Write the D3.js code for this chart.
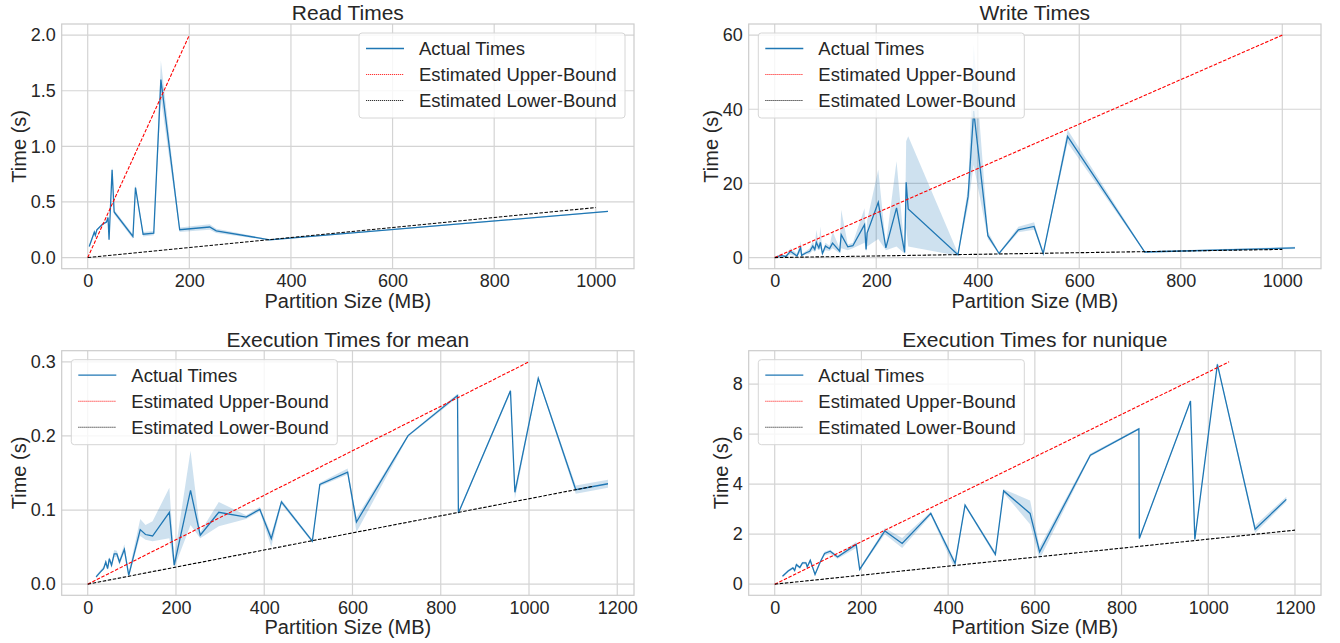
<!DOCTYPE html>
<html>
<head>
<meta charset="utf-8">
<script src="https://cdn.jsdelivr.net/npm/d3@7"></script>
<style>
  body { margin: 0; background: #fff; }
  svg { font-family: "Liberation Sans", Arial, sans-serif; }
</style>
</head>
<body>
<script>
// ---- Read Times ----
const readSize = [3, 13, 15, 18, 29, 37, 40, 42, 48, 52, 89, 94, 109, 130, 144, 181, 240, 253, 358, 1024];
const readTime = [0.10, 0.23, 0.20, 0.25, 0.30, 0.32, 0.36, 0.16, 0.79, 0.41, 0.19, 0.63, 0.21, 0.22, 1.60, 0.25, 0.275, 0.24, 0.16, 0.415];
const readLow  = [0.09, 0.21, 0.19, 0.24, 0.29, 0.31, 0.34, 0.15, 0.76, 0.39, 0.17, 0.60, 0.19, 0.20, 1.43, 0.23, 0.25, 0.22, 0.155, 0.41];
const readHigh = [0.11, 0.24, 0.21, 0.26, 0.31, 0.33, 0.38, 0.18, 0.82, 0.43, 0.21, 0.66, 0.23, 0.24, 1.77, 0.27, 0.30, 0.26, 0.165, 0.42];
const readUpperX = [0, 200], readUpperY = [0, 2.0];
const readLowerX = [0, 1000], readLowerY = [0, 0.45];
const readYTicks = [0, 0.5, 1.0, 1.5, 2.0];

// ---- Write Times ----
const writeSize = [2, 13, 22, 31, 44, 51, 53, 62, 69, 75, 79, 82, 87, 90, 94, 100, 108, 114, 128, 131, 144, 154, 177, 180, 182, 204, 219, 240, 256, 259, 263, 361, 381, 392, 420, 442, 480, 511, 529, 577, 729, 1025];
const writeTime = [0.2, 0.5, 0.3, 1.7, 0.4, 2.8, 0.6, 1.3, 1.7, 3.1, 2.2, 4.1, 2.6, 4.1, 1.1, 3.1, 2.4, 3.9, 1.7, 6.2, 2.9, 3.2, 8.9, 2.2, 6.6, 14.9, 2.6, 13.4, 1.4, 20.3, 13.1, 0.8, 16.5, 39.5, 5.9, 1.1, 7.5, 8.4, 1.1, 32.7, 1.5, 2.6];
const writeLow  = [0.1, 0.3, 0.2, 0.8, 0.2, 1.5, 0.4, 0.8, 1.0, 2.0, 1.5, 2.5, 2.0, 2.5, 0.8, 2.0, 1.8, 2.5, 1.2, 2.5, 2.0, 2.5, 4.0, 1.5, 3.0, 5.0, 2.0, 3.0, 1.0, 8.0, 3.0, 0.5, 14.0, 25.0, 5.0, 0.9, 6.8, 7.5, 0.9, 31.0, 1.3, 2.3];
const writeHigh = [0.3, 0.8, 0.5, 2.5, 1.0, 4.4, 1.0, 1.8, 2.5, 4.5, 3.0, 7.5, 3.5, 8.4, 1.6, 4.0, 3.2, 7.0, 2.5, 12.9, 3.5, 4.0, 13.3, 3.0, 10.0, 23.7, 3.5, 26.0, 2.0, 31.4, 32.7, 1.2, 19.0, 57.6, 7.0, 1.4, 8.3, 9.5, 1.3, 34.5, 1.7, 2.9];
const writeUpperX = [0, 1000], writeUpperY = [0, 60];
const writeLowerX = [0, 1000], writeLowerY = [0, 2.2];
const writeYTicks = [0, 20, 40, 60];

// ---- Execution Times for mean ----
const meanSize = [19, 29, 36, 41, 45, 49, 54, 60, 66, 72, 83, 93, 119, 131, 147, 185, 196, 233, 255, 297, 359, 390, 416, 439, 509, 526, 589, 609, 726, 838, 840, 958, 968, 1021, 1106, 1179];
const meanTime = [0.0099, 0.0166, 0.021, 0.030, 0.021, 0.0345, 0.0256, 0.041, 0.041, 0.030, 0.047, 0.012, 0.0736, 0.067, 0.065, 0.097, 0.0256, 0.1265, 0.066, 0.097, 0.0906, 0.101, 0.0615, 0.111, 0.058, 0.1346, 0.151, 0.0839, 0.2005, 0.2544, 0.096, 0.261, 0.124, 0.2777, 0.1274, 0.1355];
const meanLow  = [0.008, 0.015, 0.019, 0.026, 0.019, 0.030, 0.022, 0.036, 0.037, 0.026, 0.043, 0.010, 0.065, 0.060, 0.058, 0.062, 0.022, 0.080, 0.062, 0.078, 0.088, 0.098, 0.050, 0.108, 0.056, 0.132, 0.148, 0.070, 0.199, 0.252, 0.094, 0.258, 0.115, 0.276, 0.122, 0.130];
const meanHigh = [0.012, 0.019, 0.024, 0.033, 0.024, 0.037, 0.029, 0.046, 0.045, 0.034, 0.054, 0.016, 0.088, 0.080, 0.085, 0.130, 0.035, 0.180, 0.070, 0.111, 0.093, 0.104, 0.068, 0.114, 0.060, 0.137, 0.156, 0.090, 0.202, 0.257, 0.098, 0.263, 0.128, 0.279, 0.133, 0.141];
const meanUpperX = [0, 1000], meanUpperY = [0, 0.3];
const meanLowerX = [0, 1145], meanLowerY = [0, 0.132];
const meanYTicks = [0, 0.1, 0.2, 0.3];

// ---- Execution Times for nunique ----
const nuniqueSize = [18, 31, 42, 46, 50, 58, 64, 72, 75, 82, 93, 105, 115, 128, 145, 188, 196, 230, 254, 294, 360, 416, 439, 509, 528, 589, 611, 728, 840, 841, 959, 969, 1021, 1108, 1180];
const nuniqueTime = [0.32, 0.53, 0.65, 0.55, 0.78, 0.67, 0.85, 0.85, 0.69, 0.96, 0.39, 0.89, 1.23, 1.32, 1.09, 1.59, 0.59, 1.49, 2.13, 1.63, 2.83, 0.83, 3.16, 1.19, 3.73, 2.83, 1.29, 5.16, 6.21, 1.83, 7.32, 1.79, 8.79, 2.2, 3.39];
const nuniqueLow  = [0.28, 0.48, 0.60, 0.50, 0.72, 0.62, 0.80, 0.80, 0.64, 0.88, 0.34, 0.84, 1.15, 1.22, 1.02, 1.45, 0.55, 1.40, 2.00, 1.45, 2.75, 0.60, 3.10, 1.10, 3.65, 2.40, 1.00, 5.10, 6.17, 1.78, 7.28, 1.70, 8.72, 2.05, 3.30];
const nuniqueHigh = [0.36, 0.58, 0.70, 0.62, 0.85, 0.72, 0.90, 0.90, 0.76, 1.02, 0.45, 0.95, 1.30, 1.38, 1.15, 1.70, 0.65, 1.58, 2.25, 1.85, 2.90, 0.95, 3.22, 1.28, 3.80, 3.35, 1.50, 5.22, 6.25, 1.88, 7.36, 1.85, 8.88, 2.35, 3.50];
const nuniqueUpperX = [0, 1048], nuniqueUpperY = [0, 8.89];
const nuniqueLowerX = [0, 1200], nuniqueLowerY = [0, 2.16];
const nuniqueYTicks = [0, 2, 4, 6, 8];

const legendLabels = ["Actual Times", "Estimated Upper-Bound", "Estimated Lower-Bound"];

const W = 1340, H = 643;
const blue = "#1f77b4";
const textColor = "#262626";

const svg = d3.select("body").append("svg")
  .attr("width", W)
  .attr("height", H);

const zip = (xs, ys) => xs.map((x, i) => [x, ys[i]]);

const panels = [
  { title: "Read Times", box: [61.7, 24, 634, 268.7], size: readSize, time: readTime, lo: readLow, hi: readHigh,
    upper: zip(readUpperX, readUpperY), lower: zip(readLowerX, readLowerY),
    xTicks: [0, 200, 400, 600, 800, 1000], yTicks: readYTicks, yFmt: d3.format(".1f"), legend: "right", ylabelX: 26 },
  { title: "Write Times", box: [748.7, 24, 1321, 268.7], size: writeSize, time: writeTime, lo: writeLow, hi: writeHigh,
    upper: zip(writeUpperX, writeUpperY), lower: zip(writeLowerX, writeLowerY),
    xTicks: [0, 200, 400, 600, 800, 1000], yTicks: writeYTicks, yFmt: d3.format("d"), legend: "left", ylabelX: 718 },
  { title: "Execution Times for mean", box: [61.7, 350.7, 634, 595.3], size: meanSize, time: meanTime, lo: meanLow, hi: meanHigh,
    upper: zip(meanUpperX, meanUpperY), lower: zip(meanLowerX, meanLowerY),
    xTicks: [0, 200, 400, 600, 800, 1000, 1200], yTicks: meanYTicks, yFmt: d3.format(".1f"), legend: "left", ylabelX: 26 },
  { title: "Execution Times for nunique", box: [748.7, 350.7, 1321, 595.3], size: nuniqueSize, time: nuniqueTime, lo: nuniqueLow, hi: nuniqueHigh,
    upper: zip(nuniqueUpperX, nuniqueUpperY), lower: zip(nuniqueLowerX, nuniqueLowerY),
    xTicks: [0, 200, 400, 600, 800, 1000, 1200], yTicks: nuniqueYTicks, yFmt: d3.format("d"), legend: "left", ylabelX: 728 }
];

// matplotlib style 5% margins
function padded(min, max) {
  const m = (max - min) * 0.05;
  return [min - m, max + m];
}

panels.forEach(p => {
  const [x0, y0, x1, y1] = p.box;
  const allX = p.size.concat(p.upper.map(d => d[0]), p.lower.map(d => d[0]));
  const allY = p.lo.concat(p.hi, p.upper.map(d => d[1]), p.lower.map(d => d[1]));

  const xScale = d3.scaleLinear().domain(padded(d3.min(allX), d3.max(allX))).range([x0, x1]);
  const yScale = d3.scaleLinear().domain(padded(d3.min(allY), d3.max(allY))).range([y1, y0]);

  const g = svg.append("g");

  const clipId = "clip" + Math.round(x0) + Math.round(y0);
  svg.append("clipPath").attr("id", clipId)
    .append("rect").attr("x", x0).attr("y", y0).attr("width", x1 - x0).attr("height", y1 - y0);

  // grid
  g.selectAll(".gx").data(p.xTicks).enter().append("line")
    .attr("x1", d => xScale(d)).attr("x2", d => xScale(d))
    .attr("y1", y0).attr("y2", y1)
    .attr("stroke", "#d4d4d4").attr("stroke-width", 1.2);
  g.selectAll(".gy").data(p.yTicks).enter().append("line")
    .attr("x1", x0).attr("x2", x1)
    .attr("y1", d => yScale(d)).attr("y2", d => yScale(d))
    .attr("stroke", "#d4d4d4").attr("stroke-width", 1.2);

  // axes (labels only, seaborn whitegrid has no tick marks)
  const xAxis = g.append("g")
    .attr("transform", "translate(0," + y1 + ")")
    .call(d3.axisBottom(xScale).tickValues(p.xTicks).tickSize(0).tickPadding(6).tickFormat(d3.format("d")));
  const yAxis = g.append("g")
    .attr("transform", "translate(" + x0 + ",0)")
    .call(d3.axisLeft(yScale).tickValues(p.yTicks).tickSize(0).tickPadding(6).tickFormat(p.yFmt));
  [xAxis, yAxis].forEach(a => {
    a.select(".domain").remove();
    a.selectAll("text").attr("fill", textColor).style("font-size", "18px")
      .style("font-family", "'Liberation Sans', Arial, sans-serif");
  });

  // spines
  g.append("rect").attr("x", x0).attr("y", y0).attr("width", x1 - x0).attr("height", y1 - y0)
    .attr("fill", "none").attr("stroke", "#cccccc").attr("stroke-width", 1.2);

  const plot = g.append("g").attr("clip-path", "url(#" + clipId + ")");
  const pts = p.size.map((s, i) => ({ x: s, y: p.time[i], lo: p.lo[i], hi: p.hi[i] }));

  plot.append("path").datum(pts)
    .attr("d", d3.area().x(d => xScale(d.x)).y0(d => yScale(d.lo)).y1(d => yScale(d.hi)))
    .attr("fill", blue).attr("fill-opacity", 0.22);

  plot.append("path").datum(pts)
    .attr("d", d3.line().x(d => xScale(d.x)).y(d => yScale(d.y)))
    .attr("fill", "none").attr("stroke", blue).attr("stroke-width", 1.3);

  const ln = d3.line().x(d => xScale(d[0])).y(d => yScale(d[1]));
  plot.append("path").datum(p.upper).attr("d", ln)
    .attr("fill", "none").attr("stroke", "red").attr("stroke-width", 1.1).attr("stroke-dasharray", "3.5,1.6");
  plot.append("path").datum(p.lower).attr("d", ln)
    .attr("fill", "none").attr("stroke", "black").attr("stroke-width", 1.1).attr("stroke-dasharray", "3.5,1.6");

  // title and axis labels
  svg.append("text").attr("x", (x0 + x1) / 2).attr("y", y0 - 4)
    .attr("text-anchor", "middle").attr("fill", textColor).style("font-size", "21px").text(p.title);
  svg.append("text").attr("x", (x0 + x1) / 2).attr("y", y1 + 39)
    .attr("text-anchor", "middle").attr("fill", textColor).style("font-size", "20px").text("Partition Size (MB)");
  svg.append("text")
    .attr("transform", "translate(" + p.ylabelX + "," + ((y0 + y1) / 2) + ") rotate(-90)")
    .attr("text-anchor", "middle").attr("fill", textColor).style("font-size", "20px").text("Time (s)");

  // legend
  const lw = 266, lh = 85;
  const lx = p.legend === "right" ? x1 - 9 - lw : x0 + 9.6;
  const ly = y0 + 9;
  const lg = svg.append("g").attr("transform", "translate(" + lx + "," + ly + ")");
  lg.append("rect").attr("width", lw).attr("height", lh).attr("rx", 3)
    .attr("fill", "white").attr("fill-opacity", 0.8).attr("stroke", "#d6d6d6").attr("stroke-width", 1);
  const styles = [
    { c: blue, dash: null, w: 1.3 },
    { c: "red", dash: "1.2,0.8", w: 1.1 },
    { c: "black", dash: "1.2,0.8", w: 1.1 }
  ];
  legendLabels.forEach((lab, i) => {
    const yy = 15.5 + i * 26;
    lg.append("line").attr("x1", 7).attr("x2", 45).attr("y1", yy).attr("y2", yy)
      .attr("stroke", styles[i].c).attr("stroke-width", styles[i].w)
      .attr("stroke-dasharray", styles[i].dash).attr("stroke-opacity", i ? 0.8 : 1);
    lg.append("text").attr("x", 60).attr("y", yy + 6.5).attr("fill", textColor)
      .style("font-size", "18.5px").text(lab);
  });
});
</script>
</body>
</html>
